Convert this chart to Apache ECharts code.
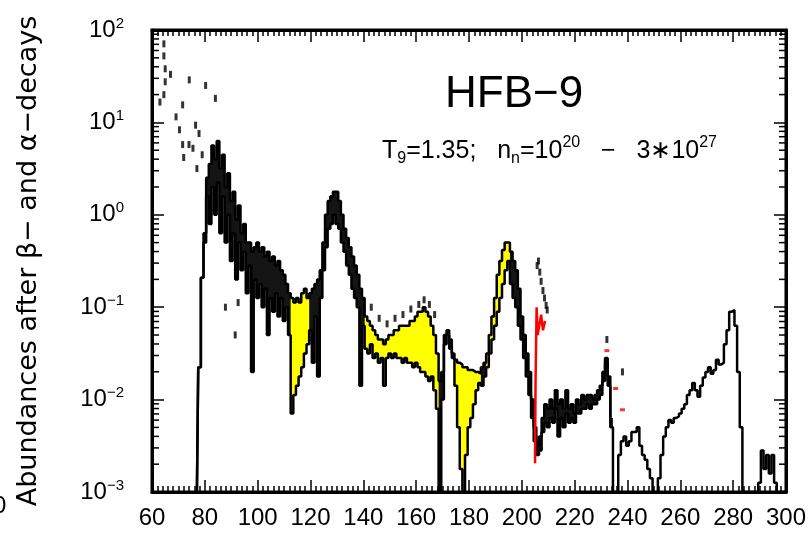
<!DOCTYPE html>
<html>
<head>
<meta charset="utf-8">
<title>HFB-9 abundances</title>
<script src="https://cdn.jsdelivr.net/npm/echarts@6/dist/echarts.min.js"></script>
<style>
  html, body { margin: 0; padding: 0; background: #fff; }
  #chart { width: 809px; height: 534px; }
</style>
</head>
<body>
<div id="chart"></div>
<script>
// mass number axis
const xMin = 60
const xMax = 300
const xStep = 20
// decades of the log axis
const yMin = 0.001
const yMax = 100

// log10(abundance), one value per mass number, starting at firstA
const firstA = 77
// upper trace, A = 77 .. 234
const logUpper = [
  -3, -1.65, -0.68, -0.2, 0.4, 0.55, 0.75, 0.6, 0.8, 0.5,
  0.65, 0.3, 0.45, 0.15, 0.25, -0.05, 0.1, -0.2, -0.1, -0.3,
  -0.3, -0.4, -0.35, -0.3, -0.4, -0.35, -0.45, -0.4, -0.5, -0.45,
  -0.55, -0.5, -0.6, -0.65, -0.75, -0.85, -0.9, -0.95, -0.9, -0.95,
  -0.85, -0.8, -0.9, -0.85, -0.8, -0.75, -0.7, -0.6, -0.3, 0.0,
  0.15, 0.2, 0.25, 0.25, 0.15, 0.0, -0.15, -0.25, -0.35, -0.45,
  -0.55, -0.65, -0.8, -0.9, -1.1, -1.15, -1.2, -1.25, -1.3, -1.35,
  -1.35, -1.4, -1.35, -1.3, -1.3, -1.25, -1.25, -1.2, -1.2, -1.2,
  -1.2, -1.15, -1.15, -1.1, -1.05, -1.05, -1.0, -1.05, -1.1, -1.2,
  -1.3, -1.5, -1.8, -1.7, -1.3, -1.25, -1.35, -1.5, -1.57, -1.6,
  -1.62, -1.65, -1.65, -1.68, -1.68, -1.7, -1.7, -1.72, -1.65, -1.6,
  -1.5, -1.3, -1.1, -0.9, -0.65, -0.5, -0.38, -0.3, -0.3, -0.4,
  -0.5, -0.6, -0.8, -1.1, -1.3, -1.5, -1.7, -2.0, -2.3, -2.5,
  -2.4, -2.2, -2.05, -2.1, -2.0, -2.1, -1.9, -2.05, -2.0, -2.1,
  -1.9, -2.1, -2.05, -2.15, -2.0, -2.05, -1.95, -2.0, -1.95, -1.95,
  -2.0, -1.95, -1.9, -1.85, -1.7, -1.55, -1.75, -2.2
]
// lower trace, A = 77 .. 300
const logLower = [
  -3, -1.65, -0.68, -0.3, 0.2, -0.1, 0.3, 0.0, 0.35, -0.2,
  0.2, -0.3, 0.0, -0.5, -0.2, -0.7, -0.3, -0.6, -0.4, -0.85,
  -0.55, -1.7, -0.7, -0.9, -0.75, -1.0, -0.8, -1.3, -0.9, -1.05,
  -0.85, -1.1, -0.9, -1.15, -1.0, -1.3, -2.15, -1.95, -1.85, -1.75,
  -1.65, -1.5, -1.4, -1.25, -1.6, -1.1, -1.75, -0.9, -0.6, -0.35,
  -0.15, -0.1, 0.0, -0.1, -0.15, -0.3, -0.4, -0.55, -0.65, -0.8,
  -0.9, -1.0, -1.85, -1.2, -1.45, -1.5, -1.4, -1.55, -1.5, -1.6,
  -1.55, -1.85, -1.55, -1.5, -1.55, -1.5, -1.55, -1.55, -1.6, -1.55,
  -1.6, -1.6, -1.65, -1.6, -1.65, -1.7, -1.7, -1.75, -1.8, -1.75,
  -1.9, -2.1, -3, -2.0, -1.4, -1.3, -1.45, -1.55, -1.85, -2.3,
  -2.75, -3, -2.6, -2.3, -2.2, -2.05, -1.9, -1.82, -1.85, -1.75,
  -1.65, -1.5, -1.35, -1.2, -1.05, -0.9, -0.75, -0.6, -0.5, -0.75,
  -0.9, -1.0, -1.2, -1.35, -1.55, -1.75, -1.95, -2.2, -2.45, -2.6,
  -2.55, -2.35, -2.25, -2.3, -2.2, -2.25, -2.1, -2.4, -2.2, -2.3,
  -2.15, -2.25, -2.2, -2.25, -2.15, -2.15, -2.1, -2.1, -2.05, -2.1,
  -2.05, -2.05, -2.0, -1.95, -1.8, -1.6, -1.85, -2.3, -3, -3,
  -2.6, -2.45, -2.4, -2.5, -2.45, -2.35, -2.35, -2.3, -2.5, -2.6,
  -2.65, -2.75, -2.85, -3, -3, -2.85, -2.6, -2.4, -2.3, -2.22,
  -2.25, -2.2, -2.18, -2.15, -2.1, -2.05, -1.95, -1.9, -1.82, -1.9,
  -1.97, -1.85, -1.76, -1.7, -1.65, -1.72, -1.68, -1.57, -1.62, -1.6,
  -1.4, -1.25, -1.05, -1.03, -1.2, -1.7, -2.3, -3, -3, -3,
  -3, -3, -3, -2.9, -2.55, -2.75, -2.6, -2.8, -2.6, -2.9,
  -3, -3, -3, -3
]
// mass ranges where the spread between the traces is shaded yellow
const yellowRanges = [[113, 119], [141, 168], [175, 184], [187, 195]]

// isolated points [A, log10(abundance)]
const blackPoints = [
  [64.5, 1.85], [64.5, 1.72], [65, 1.58], [65, 1.44], [64.5, 1.3], [63, 1.22],
  [67, 1.52], [71.6, 1.19], [69.1, 1.06], [70.4, 0.92], [74.1, 1.46], [76.5, 0.97],
  [80.3, 1.4], [84, 1.26], [77.8, 0.88], [71.6, 0.76], [74, 0.76], [75.5, 0.72],
  [72, 0.62], [79, 0.65], [77, 0.5], [87.8, -1.0], [92.6, -0.95], [91.5, -1.3],
  [143, -1.0], [146, -1.12], [149, -1.18], [152, -1.12], [155, -1.08], [158, -1.02],
  [161, -0.97], [163, -0.92], [165, -0.97], [167, -1.08],
  [205.8, -0.55], [206.3, -0.5], [206.8, -0.62], [207.3, -0.72], [208, -0.82],
  [208.6, -0.9], [209.2, -0.98], [209.6, -1.03],
  [232.2, -1.35], [238.1, -1.7]
]
const redLine = [
  [205.0, -2.69], [205.2, -1.8], [205.6, -1.0], [206.0, -1.3], [206.6, -1.2],
  [207.3, -1.08], [208.0, -1.25], [208.8, -1.15]
]
const redPoints = [[232.2, -1.47], [235.5, -1.88], [238.1, -2.11]]

const FONT = 'Liberation Sans'

const toXY = (arr) => arr.map((v, i) => [firstA + i, Math.pow(10, v)])
const toPts = (arr) => arr.map((p) => [p[0], Math.pow(10, p[1])])

// minor ticks of the log axis at 2..9 x 10^k
const minorLogTicks = []
for (let e = -3; e < 2; e++) {
  for (let m = 2; m <= 9; m++) minorLogTicks.push([m * Math.pow(10, e)])
}

function bandPolygon(api, a0, a1) {
  const top = []
  const bottom = []
  for (let a = a0; a <= a1; a++) {
    const i = a - firstA
    const hi = Math.pow(10, logUpper[i])
    const lo = Math.pow(10, logLower[i])
    top.push(api.coord([a - 0.5, hi]), api.coord([a + 0.5, hi]))
    bottom.push(api.coord([a - 0.5, lo]), api.coord([a + 0.5, lo]))
  }
  return top.concat(bottom.reverse())
}

const supLabel = (v) => {
  const e = Math.round(Math.log10(v))
  return '{b|10}{s|' + String(e).replace('-', '\u2212') + '}'
}

const chart = echarts.init(document.getElementById('chart'))

const txt = (size, extra) => Object.assign({ fontFamily: FONT, fontSize: size, fontWeight: 'normal', color: '#000' }, extra)

const option = {
  animation: false,
  backgroundColor: '#fff',
  grid: { left: 152, right: 9, top: 30, bottom: 42, show: true, borderColor: '#000', borderWidth: 3 },
  title: [
    {
      text: 'HFB\u22129',
      left: 440, top: 68,
      textStyle: txt(44)
    },
    {
      text: '{m|T}{sub|9}{m|=1.35;   n}{sub|n}{m|=10}{sup|20}{m|   \u2212   3\u221710}{sup|27}',
      left: 377, top: 130,
      textStyle: {
        fontWeight: 'normal',
        rich: {
          m: txt(25, { lineHeight: 32 }),
          sub: txt(16, { lineHeight: 14, verticalAlign: 'bottom' }),
          sup: txt(16, { lineHeight: 14, verticalAlign: 'top' })
        }
      }
    }
  ],
  graphic: [
    { type: 'text', left: -7, top: 494, style: { text: '0', font: '24px "Liberation Sans"', fill: '#000' } }
  ],
  xAxis: [
    {
      type: 'value', min: xMin, max: xMax, interval: xStep,
      axisLine: { lineStyle: { color: '#000', width: 3 } },
      axisTick: { inside: true, length: 12, lineStyle: { color: '#000', width: 1.5 } },
      minorTick: { show: true, splitNumber: 10, length: 6, lineStyle: { color: '#000', width: 1.5 } },
      splitLine: { show: false },
      axisLabel: { margin: 14, fontFamily: FONT, fontSize: 24, color: '#000' }
    },
    {
      type: 'value', position: 'top', min: xMin, max: xMax, interval: xStep,
      axisLine: { lineStyle: { color: '#000', width: 3 } },
      axisTick: { inside: true, length: 12, lineStyle: { color: '#000', width: 1.5 } },
      minorTick: { show: true, splitNumber: 10, length: 6, lineStyle: { color: '#000', width: 1.5 } },
      splitLine: { show: false },
      axisLabel: { show: false }
    }
  ],
  yAxis: [
    {
      type: 'log', logBase: 10, min: yMin, max: yMax,
      name: 'Abundances after \u03b2\u2212 and \u03b1\u2212decays',
      nameLocation: 'middle', nameGap: 110, nameRotate: 90,
      nameTextStyle: { fontFamily: 'DejaVu Sans', fontSize: 27, color: '#000' },
      axisLine: { show: true, lineStyle: { color: '#000', width: 3 } },
      axisTick: { inside: true, length: 12, lineStyle: { color: '#000', width: 1.5 } },
      splitLine: { show: false },
      axisLabel: {
        margin: 28, formatter: supLabel,
        rich: {
          b: txt(24, { lineHeight: 28 }),
          s: txt(15, { lineHeight: 14, verticalAlign: 'top' })
        }
      }
    },
    {
      type: 'log', logBase: 10, min: yMin, max: yMax, position: 'right',
      axisLine: { show: true, lineStyle: { color: '#000', width: 3 } },
      axisTick: { inside: true, length: 12, lineStyle: { color: '#000', width: 1.5 } },
      splitLine: { show: false },
      axisLabel: { show: false }
    }
  ],
  series: [
    {
      // spread between the traces
      type: 'custom', silent: true, z: 1,
      data: [[firstA + 1, firstA + logUpper.length - 1]],
      renderItem: (params, api) => ({
        type: 'polygon',
        shape: { points: bandPolygon(api, api.value(0), api.value(1)) },
        style: { fill: '#000', opacity: 0.92 }
      })
    },
    {
      type: 'custom', silent: true, z: 2,
      data: yellowRanges,
      renderItem: (params, api) => ({
        type: 'polygon',
        shape: { points: bandPolygon(api, api.value(0), api.value(1)) },
        style: { fill: '#ffff00' }
      })
    },
    {
      type: 'line', step: 'middle', symbol: 'none', z: 3,
      data: toXY(logUpper),
      lineStyle: { color: '#000', width: 2.5 }
    },
    {
      type: 'line', step: 'middle', symbol: 'none', z: 3,
      data: toXY(logLower),
      lineStyle: { color: '#000', width: 2.5 }
    },
    {
      type: 'scatter', z: 4, symbol: 'rect', symbolSize: [3, 7],
      data: toPts(blackPoints),
      itemStyle: { color: '#000' }
    },
    {
      type: 'line', symbol: 'none', z: 5,
      data: toPts(redLine),
      lineStyle: { color: '#ff0000', width: 2.5 }
    },
    {
      type: 'scatter', z: 5, symbol: 'rect', symbolSize: [5, 3],
      data: toPts(redPoints),
      itemStyle: { color: '#ff0000' }
    },
    {
      // minor log ticks, left and right frame
      type: 'custom', silent: true, z: 6,
      data: minorLogTicks,
      renderItem: (params, api) => {
        const v = api.value(0)
        const l = api.coord([xMin, v])
        const r = api.coord([xMax, v])
        const st = { stroke: '#000', lineWidth: 1.5 }
        return {
          type: 'group',
          children: [
            { type: 'line', shape: { x1: l[0], y1: l[1], x2: l[0] + 7, y2: l[1] }, style: st },
            { type: 'line', shape: { x1: r[0] - 7, y1: r[1], x2: r[0], y2: r[1] }, style: st }
          ]
        }
      }
    }
  ]
}

chart.setOption(option)
</script>
</body>
</html>
